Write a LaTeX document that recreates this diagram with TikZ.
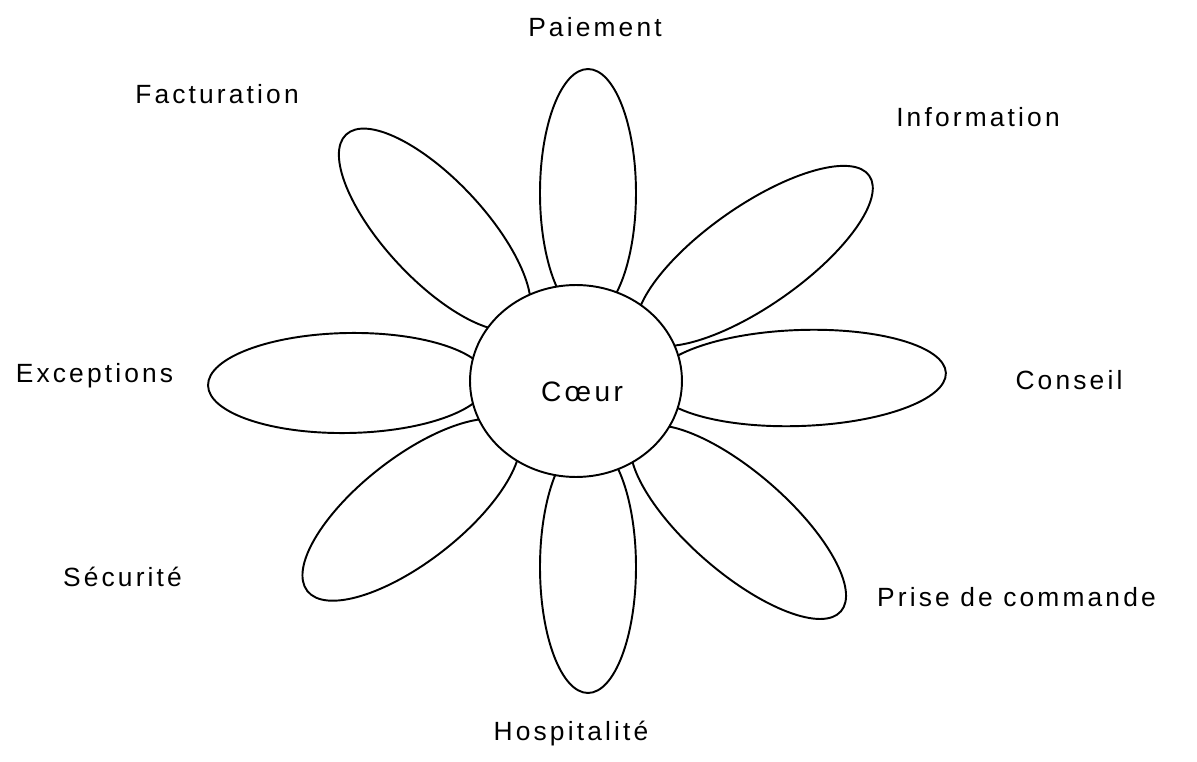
\documentclass[tikz,border=0pt]{standalone}
\usepackage{fontspec}
\setmainfont{Liberation Sans}[LetterSpace=12]
\usepackage{tikz}
\usetikzlibrary{shapes.geometric}
\tikzset{
  every picture/.style={line width=1.1pt},
  petale/.style={draw=black, fill=white, ellipse, inner sep=0pt,
                 minimum width=#1, minimum height=2cm},
  coeur/.style={draw=black, fill=white, ellipse, inner sep=0pt,
                minimum width=4.24cm, minimum height=3.84cm},
  etiq/.style={anchor=base, inner sep=0pt, font=\fontsize{15}{18}\selectfont},
}

\begin{document}
\begin{tikzpicture}[x=0.02cm, y=0.02cm]
  \useasboundingbox (-576,-380) rectangle (621,381);
  % petales
  \node[petale=4.96cm, minimum height=1.92cm, rotate=90] (p-paiement) at (12,188) {};
  \node[petale=5.6cm, rotate=35] (p-information) at (178.6,125) {};
  \node[petale=5.84cm, minimum height=1.92cm, rotate=2] (p-conseil) at (224,3) {};
  \node[petale=5.44cm, rotate=-41] (p-commande) at (162.3,-141.1) {};
  \node[petale=5.04cm, minimum height=1.92cm, rotate=90] (p-hospitalite) at (12,-186) {};
  \node[petale=5.28cm, minimum height=2.08cm, rotate=38] (p-securite) at (-164.7,-128.7) {};
  \node[petale=5.6cm, rotate=1] (p-exceptions) at (-228,-2) {};
  \node[petale=5.2cm, rotate=-47] (p-facturation) at (-141.2,151.4) {};
  % coeur
  \node[coeur] (coeur) at (0,0) {};
  \node[etiq, font=\fontsize{16}{19}\selectfont] (mot-coeur) at (6,-20) {Cœur};
  % etiquettes
  \node[etiq] (paiement) at (19,344) {Paiement};
  \node[etiq] (facturation) at (-359,277.5) {Facturation};
  \node[etiq] (information) at (402,254.5) {Information};
  \node[etiq] (exceptions) at (-481.5,-1.5) {Exceptions};
  \node[etiq] (conseil) at (493,-8.5) {Conseil};
  \node[etiq] (securite) at (-453.5,-205.5) {Sécurité};
  \node[etiq] (commande) at (440.5,-225.5) {Prise de commande};
  \node[etiq] (hospitalite) at (-5,-359) {Hospitalité};
\end{tikzpicture}
\end{document}
